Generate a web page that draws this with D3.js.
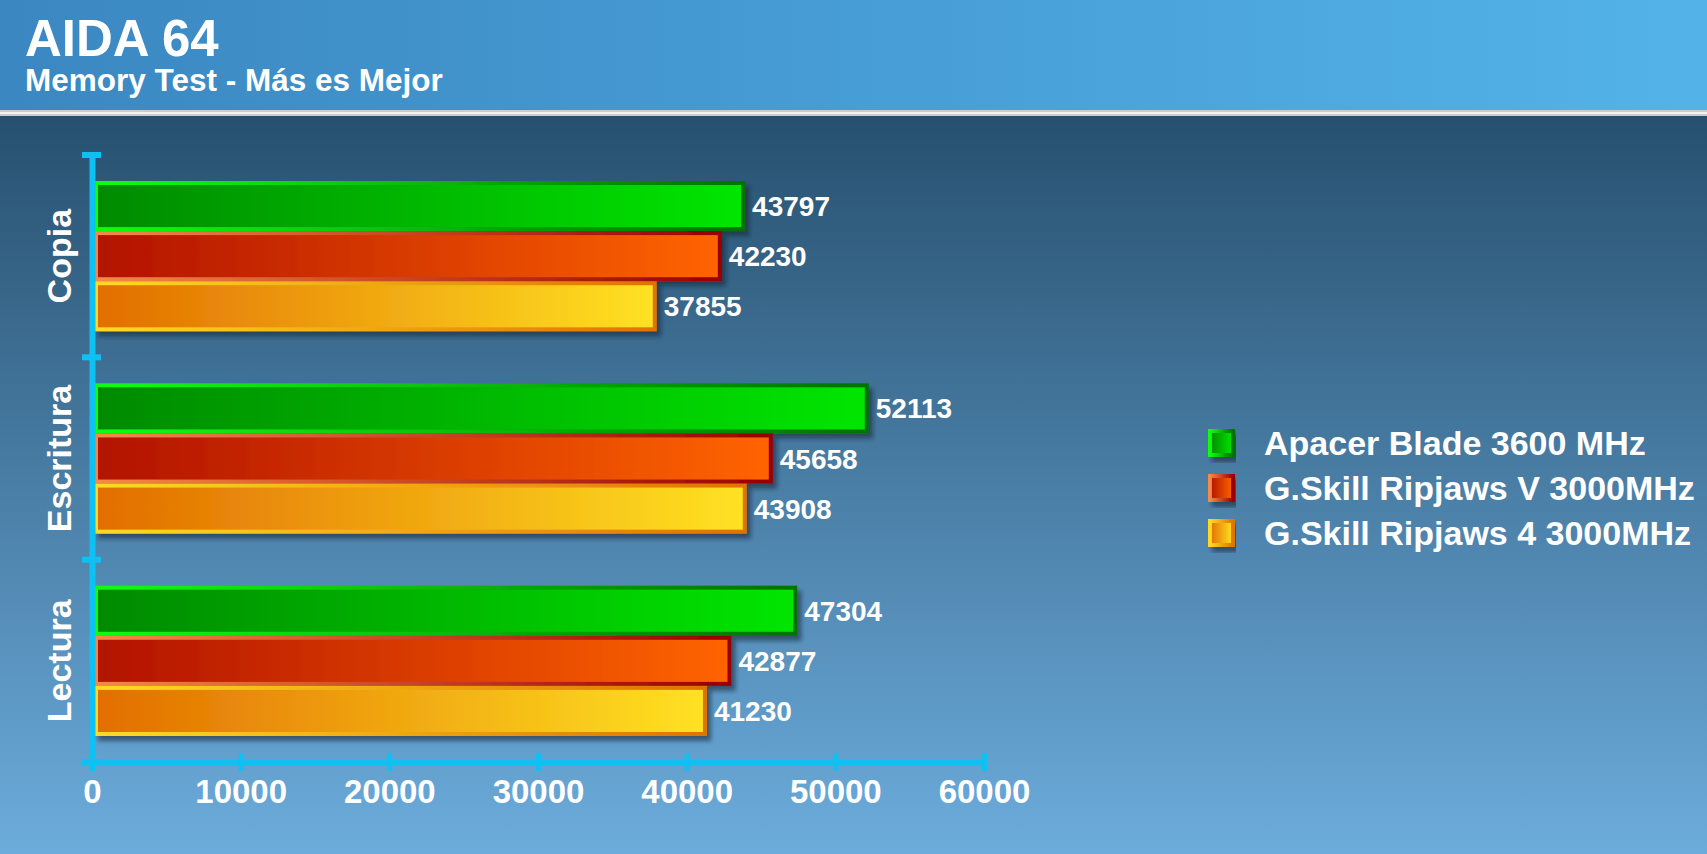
<!DOCTYPE html>
<html>
<head>
<meta charset="utf-8">
<script src="https://cdn.jsdelivr.net/npm/d3@7"></script>
<style>
  body { margin: 0; overflow: hidden; }
  text { font-family: "Liberation Sans", Arial, sans-serif; font-weight: bold; fill: #fff; }
</style>
</head>
<body>
<div id="chart"></div>
<script>
// chart data
var categories = ["Copia", "Escritura", "Lectura"];
var seriesNames = ["Apacer Blade 3600 MHz", "G.Skill Ripjaws V 3000MHz", "G.Skill Ripjaws 4 3000MHz"];
var apacerValues = [43797, 52113, 47304];
var ripjawsVValues = [42230, 45658, 42877];
var ripjaws4Values = [37855, 43908, 41230];
var xTickValues = [0, 10000, 20000, 30000, 40000, 50000, 60000];

var width = 1707, height = 854;
var axisColor = "#0fc0f2";

// gradient colours per series: fill left/right, border left/right
var seriesStyle = [
    { fill: ["#008a00", "#00e600"], stroke: ["#10ff10", "#007200"] },
    { fill: ["#b21200", "#ff6400"], stroke: ["#f48a48", "#980000"] },
    { fill: ["#e26e00", "#ffe222"], stroke: ["#ffda22", "#de7400"] }
];

var svg = d3.select("#chart")
    .append("svg")
    .attr("width", width)
    .attr("height", height);

var defs = svg.append("defs");

function linearGrad(id, c0, c1, vertical) {
    var g = defs.append("linearGradient").attr("id", id)
        .attr("x1", 0).attr("y1", 0)
        .attr("x2", vertical ? 0 : 1).attr("y2", vertical ? 1 : 0);
    g.append("stop").attr("offset", "0%").attr("stop-color", c0);
    g.append("stop").attr("offset", "100%").attr("stop-color", c1);
}

linearGrad("headerGrad", "#3b87c1", "#53b3e9", false);
linearGrad("bodyGrad", "#27506f", "#6cacdc", true);
seriesStyle.forEach(function(s, i) {
    linearGrad("fill" + i, s.fill[0], s.fill[1], false);
    linearGrad("stroke" + i, s.stroke[0], s.stroke[1], false);
});

var shadow = defs.append("filter").attr("id", "shadow")
    .attr("x", "-5%").attr("y", "-20%").attr("width", "115%").attr("height", "150%");
shadow.append("feDropShadow")
    .attr("dx", 4).attr("dy", 5).attr("stdDeviation", 2)
    .attr("flood-color", "#0a2033").attr("flood-opacity", 0.55);

// background: header band, separator, body
svg.append("rect").attr("width", width).attr("height", 110).attr("fill", "url(#headerGrad)");
svg.append("rect").attr("y", 110).attr("width", width).attr("height", 6).attr("fill", "#c9cdd2");
svg.append("rect").attr("y", 112).attr("width", width).attr("height", 2).attr("fill", "#f2f2f2");
svg.append("rect").attr("y", 116).attr("width", width).attr("height", height - 116).attr("fill", "url(#bodyGrad)");

svg.append("text").attr("x", 25).attr("y", 56).style("font-size", "51px").text("AIDA 64");
svg.append("text").attr("x", 25).attr("y", 91).style("font-size", "31.5px").text("Memory Test - Más es Mejor");

// scales
var x = d3.scaleLinear().domain([0, 60000]).range([92, 984]);
var y = d3.scaleBand().domain(categories).range([155, 762]);
var ySub = d3.scaleBand().domain(seriesNames).range([26, y.bandwidth() - 26]);

var rows = categories.map(function(c, i) {
    return { category: c, values: [apacerValues[i], ripjawsVValues[i], ripjaws4Values[i]] };
});

// bars
var groups = svg.selectAll(".group")
    .data(rows)
    .enter()
    .append("g")
    .attr("transform", d => "translate(0," + y(d.category) + ")");

groups.selectAll("rect")
    .data(d => d.values.map((v, i) => ({ value: v, series: i })))
    .enter()
    .append("rect")
    .attr("x", x(0) + 4)
    .attr("y", d => ySub(seriesNames[d.series]) + 2)
    .attr("width", d => x(d.value) - x(0) - 4)
    .attr("height", ySub.bandwidth() - 4)
    .attr("fill", d => "url(#fill" + d.series + ")")
    .attr("stroke", d => "url(#stroke" + d.series + ")")
    .attr("stroke-width", 4)
    .attr("filter", "url(#shadow)");

groups.selectAll(".value")
    .data(d => d.values.map((v, i) => ({ value: v, series: i })))
    .enter()
    .append("text")
    .attr("class", "value")
    .attr("x", d => x(d.value) + 9)
    .attr("y", d => ySub(seriesNames[d.series]) + ySub.bandwidth() / 2)
    .attr("dy", "0.36em")
    .style("font-size", "28px")
    .text(d => d.value);

// x axis
var xAxis = svg.append("g")
    .attr("transform", "translate(0,762)")
    .call(d3.axisBottom(x).tickValues(xTickValues).tickFormat(d3.format("d"))
        .tickSizeOuter(0).tickSizeInner(9).tickPadding(0));
xAxis.select(".domain").attr("stroke", axisColor).attr("stroke-width", 6);
xAxis.selectAll(".tick line").attr("stroke", axisColor).attr("stroke-width", 5).attr("y1", -9).attr("y2", 9);
xAxis.selectAll(".tick text")
    .attr("y", 41).attr("dy", 0)
    .style("font-size", "33px")
    .style("font-family", "'Liberation Sans', Arial, sans-serif")
    .attr("fill", "#fff");

// y axis
var yAxis = svg.append("g")
    .attr("transform", "translate(" + x(0) + ",0)")
    .call(d3.axisLeft(y).tickSize(0).tickFormat(""));
yAxis.select(".domain").attr("stroke", axisColor).attr("stroke-width", 6);
yAxis.selectAll(".tick").remove();

var boundaries = categories.map(c => y(c)).concat([y.range()[1]]);
yAxis.selectAll(".bound")
    .data(boundaries)
    .enter()
    .append("line")
    .attr("x1", -10).attr("x2", 9)
    .attr("y1", d => d).attr("y2", d => d)
    .attr("stroke", axisColor)
    .attr("stroke-width", 6);

svg.selectAll(".cat")
    .data(categories)
    .enter()
    .append("text")
    .attr("text-anchor", "middle")
    .attr("transform", d => "translate(71," + (y(d) + y.bandwidth() / 2) + ") rotate(-90)")
    .style("font-size", "34px")
    .text(d => d);

// legend
var legend = svg.selectAll(".legend")
    .data(seriesNames)
    .enter()
    .append("g")
    .attr("transform", (d, i) => "translate(1208," + (443 + i * 45) + ")");

legend.append("rect")
    .attr("x", 2).attr("y", -12)
    .attr("width", 23).attr("height", 24)
    .attr("fill", (d, i) => "url(#fill" + i + ")")
    .attr("stroke", (d, i) => "url(#stroke" + i + ")")
    .attr("stroke-width", 4)
    .attr("filter", "url(#shadow)");

legend.append("text")
    .attr("x", 56)
    .attr("dy", "0.36em")
    .style("font-size", "34px")
    .text(d => d);
</script>
</body>
</html>
